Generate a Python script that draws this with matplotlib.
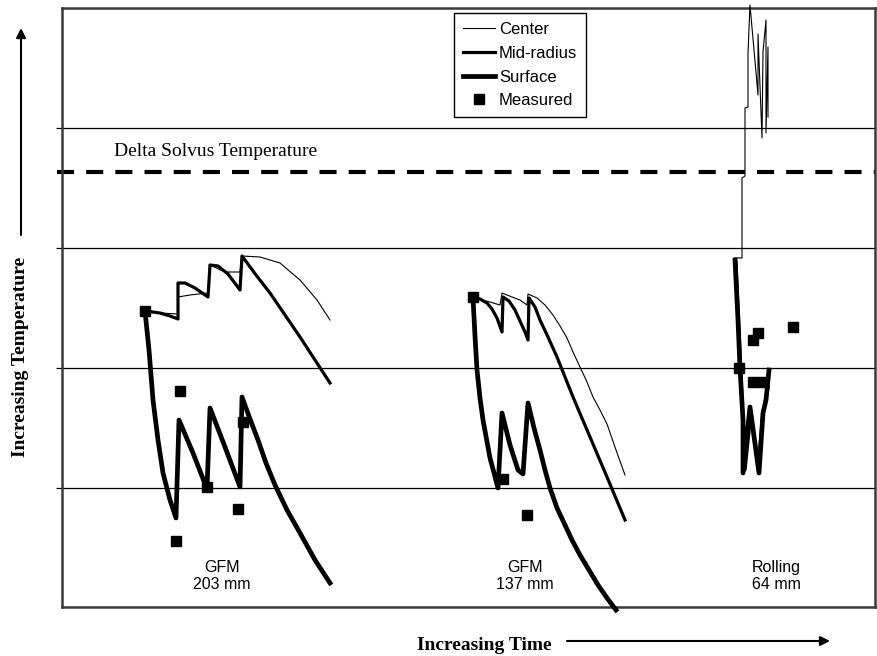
import matplotlib
matplotlib.use("Agg")
import matplotlib.pyplot as plt
from matplotlib.lines import Line2D
from matplotlib.patches import FancyArrowPatch

W, H = 878, 656

# ---------------- data (arbitrary time / temperature units) ----------------
# GFM 203 mm
gfm203_center_t = [145, 160, 178, 178, 190, 208, 210, 225, 240, 242, 260, 280, 300, 317, 330]
gfm203_center_T = [345, 343, 342, 359, 361, 363, 391, 384, 384, 400, 399, 393, 376, 356, 336]
gfm203_mid_t = [145, 160, 170, 178, 178, 185, 195, 208, 210, 218, 228, 240, 242, 256, 270, 285, 300, 315, 330]
gfm203_mid_T = [345, 343, 340, 337, 373, 373, 368, 359, 391, 390, 382, 366, 400, 381, 363, 341, 319, 296, 273]
gfm203_surf_t = [145, 149, 153, 158, 163, 170, 176, 179, 193, 207, 210, 225, 240, 242, 250, 258, 266, 275, 287, 300, 315, 330]
gfm203_surf_T = [345, 306, 256, 216, 183, 156, 138, 236, 203, 167, 248, 209, 169, 259, 237, 216, 193, 171, 146, 123, 96, 73]
gfm203_meas_t = [145, 180, 176, 207, 238, 243]
gfm203_meas_T = [345, 265, 115, 169, 147, 234]

# GFM 137 mm
gfm137_center_t = [473, 482, 490, 500, 502, 512, 520, 527, 528, 537, 545, 553, 560, 567, 573, 580, 587, 593, 600, 607, 616, 625]
gfm137_center_T = [358, 356, 354, 351, 363, 359, 356, 351, 362, 358, 351, 341, 330, 318, 304, 289, 274, 259, 246, 232, 206, 181]
gfm137_mid_t = [473, 480, 487, 492, 497, 502, 503, 509, 515, 520, 525, 528, 529, 535, 540, 548, 557, 573, 590, 607, 625]
gfm137_mid_T = [358, 357, 353, 347, 338, 324, 359, 355, 346, 335, 324, 316, 358, 349, 336, 319, 299, 259, 219, 179, 136]
gfm137_surf_t = [473, 475, 477, 480, 483, 490, 498, 502, 510, 518, 523, 528, 534, 540, 545, 550, 557, 565, 572, 580, 589, 598, 607, 616]
gfm137_surf_T = [358, 320, 286, 258, 236, 198, 168, 243, 211, 186, 182, 253, 228, 206, 186, 168, 148, 131, 116, 101, 86, 71, 58, 46]
gfm137_meas_t = [473, 503, 527]
gfm137_meas_T = [359, 177, 141]

# Rolling 64 mm
roll_center_t = [735, 742, 742, 745, 745, 748, 748, 750, 758, 758, 762, 763, 766, 766, 768, 768]
roll_center_T = [398, 398, 478, 480, 548, 549, 603, 651, 561, 622, 518, 604, 636, 523, 609, 539]
roll_mid_t = [736, 739, 742, 745, 751, 758, 763, 768]
roll_mid_T = [394, 326, 256, 186, 244, 188, 244, 268]
roll_surf_t = [735, 738, 740, 743, 743, 750, 759, 763, 766, 769]
roll_surf_T = [396, 336, 288, 236, 183, 249, 183, 243, 256, 286]
roll_meas_t = [739, 753, 758, 793, 753, 763]
roll_meas_T = [288, 316, 323, 329, 274, 274]

grid_levels = [528, 408, 288, 168]
delta_solvus = 484
process_labels = ["GFM\n203 mm", "GFM\n137 mm", "Rolling\n64 mm"]
process_label_t = [222, 525, 776]
process_label_T = [80, 80, 80]

# ---------------- figure ----------------
fig = plt.figure(figsize=(W / 100, H / 100), dpi=100)
ax = fig.add_axes([62 / W, (656 - 607) / H, (875 - 62) / W, (607 - 8) / H])
ax.set_xlim(62, 875)
ax.set_ylim(656 - 607, 656 - 8)

for g in grid_levels:
    ax.axhline(g, color="black", lw=0.9, zorder=1)

dash = Line2D([57, 875], [delta_solvus, delta_solvus], color="black", lw=3.0,
              dashes=(4.1, 2.9), clip_on=False, zorder=2)
ax.add_line(dash)
ax.text(216, delta_solvus + 21, "Delta Solvus Temperature", ha="center", va="center",
        fontsize=14, family="Liberation Serif")

lw_c, lw_m, lw_s = 0.8, 2.3, 3.4
for (ct, cT, mt, mT, st, sT, et, eT) in [
    (gfm203_center_t, gfm203_center_T, gfm203_mid_t, gfm203_mid_T, gfm203_surf_t, gfm203_surf_T, gfm203_meas_t, gfm203_meas_T),
    (gfm137_center_t, gfm137_center_T, gfm137_mid_t, gfm137_mid_T, gfm137_surf_t, gfm137_surf_T, gfm137_meas_t, gfm137_meas_T),
    (roll_center_t, roll_center_T, roll_mid_t, roll_mid_T, roll_surf_t, roll_surf_T, roll_meas_t, roll_meas_T),
]:
    ax.plot(ct, cT, color="black", lw=lw_c, zorder=4, clip_on=False)
    ax.plot(mt, mT, color="black", lw=lw_m, zorder=4)
    ax.plot(st, sT, color="black", lw=lw_s, zorder=4, clip_on=False)
    ax.plot(et, eT, ls="none", marker="s", ms=7, color="black", zorder=5)

for lab, t, T in zip(process_labels, process_label_t, process_label_T):
    ax.text(t, T, lab, ha="center", va="center", fontsize=11.5,
            family="Liberation Sans", linespacing=1.15)

for s in ax.spines.values():
    s.set_color("#3a3a3a")
    s.set_linewidth(1.8)
ax.set_xticks([])
ax.set_yticks(grid_levels)
ax.set_yticklabels([])
ax.tick_params(axis="y", direction="out", length=4, width=0.9)

handles = [
    Line2D([], [], color="black", lw=0.8),
    Line2D([], [], color="black", lw=2.3),
    Line2D([], [], color="black", lw=3.4),
    Line2D([], [], ls="none", marker="s", ms=6.5, color="black"),
]
leg = ax.legend(handles, ["Center", "Mid-radius", "Surface", "Measured"],
                loc="upper left", bbox_to_anchor=(454 / W, 1 - 13 / H),
                bbox_transform=fig.transFigure, borderaxespad=0,
                prop={"family": "Liberation Sans", "size": 12},
                handlelength=1.9, handletextpad=0.25, labelspacing=0.52,
                borderpad=0.55, fancybox=False, framealpha=1, edgecolor="black")
leg.get_frame().set_linewidth(1.0)

# axis captions with arrows
fig.text(484 / W, 1 - 646 / H, "Increasing Time", ha="center", va="center",
         fontsize=14, fontweight="bold", family="Liberation Serif")
fig.text(21 / W, 1 - 357 / H, "Increasing Temperature", ha="center", va="center",
         rotation=90, fontsize=14, fontweight="bold", family="Liberation Serif")
arrowkw = dict(arrowstyle="-|>", color="black", lw=1.5, mutation_scale=14,
               shrinkA=0, shrinkB=0)
fig.add_artist(FancyArrowPatch(
    (567 / W, 1 - 641 / H), (830 / W, 1 - 641 / H), transform=fig.transFigure, **arrowkw))
fig.add_artist(FancyArrowPatch(
    (21 / W, 1 - 235 / H), (21 / W, 1 - 28 / H), transform=fig.transFigure, **arrowkw))

fig.savefig("out.png", dpi=100)
